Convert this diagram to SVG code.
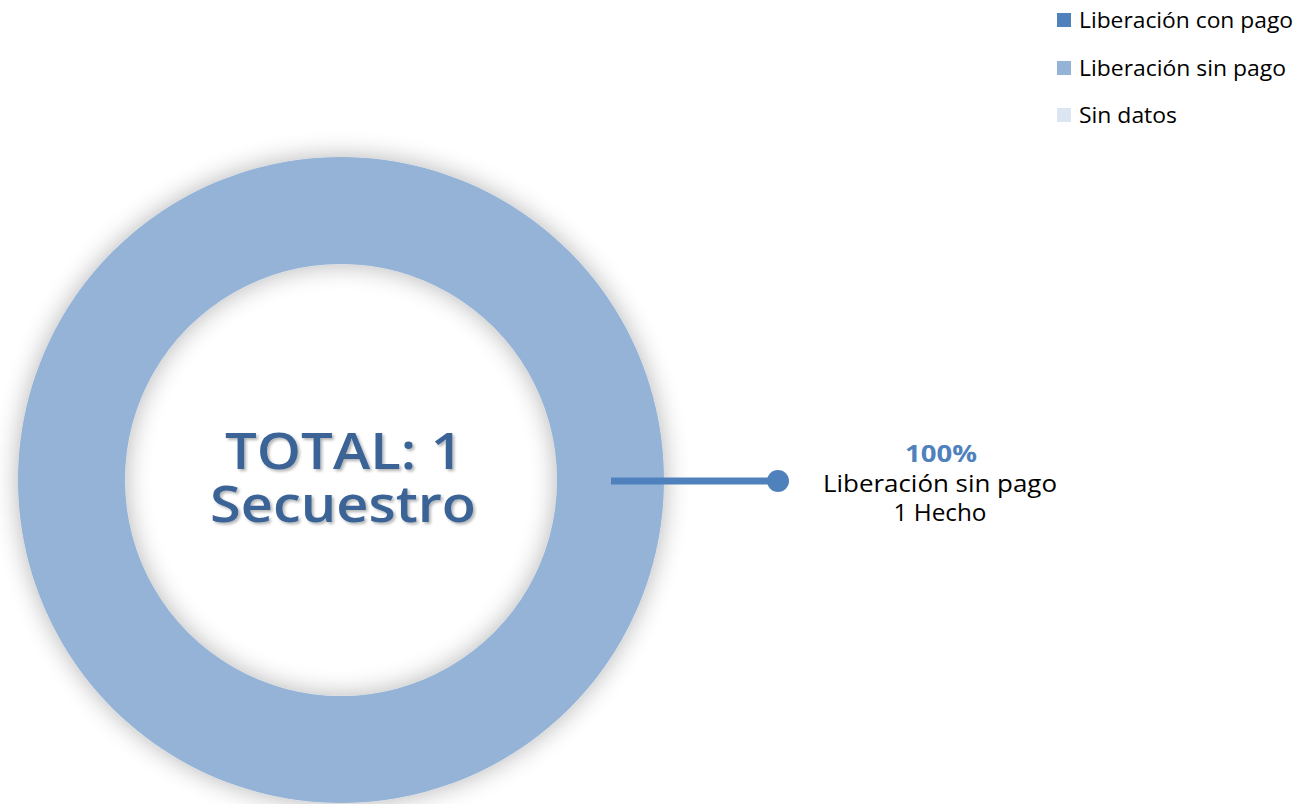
<svg xmlns="http://www.w3.org/2000/svg" width="1315" height="804" viewBox="0 0 1315 804">
  <defs>
    <filter id="glow" x="-20%" y="-20%" width="140%" height="140%">
      <feGaussianBlur in="SourceAlpha" stdDeviation="13"/>
      <feComponentTransfer><feFuncA type="linear" slope="0.3"/></feComponentTransfer>
      <feMerge><feMergeNode/><feMergeNode in="SourceGraphic"/></feMerge>
    </filter>
    <filter id="tshadow" x="-10%" y="-20%" width="120%" height="140%">
      <feGaussianBlur in="SourceAlpha" stdDeviation="1.5"/>
      <feOffset dx="2" dy="2"/>
      <feComponentTransfer><feFuncA type="linear" slope="0.3"/></feComponentTransfer>
      <feMerge><feMergeNode/><feMergeNode in="SourceGraphic"/></feMerge>
    </filter>
  </defs>
  <style>
    .legend { font-family: "Open Sans", "Liberation Sans", sans-serif; font-size: 21px; fill: #000; }
    .center { font-family: "Open Sans", "DejaVu Sans", sans-serif; font-weight: 600; font-size: 50px; fill: #3a6496; text-anchor: middle; }
    .lbl { font-family: "Open Sans", "Liberation Sans", sans-serif; font-size: 23px; fill: #000; text-anchor: middle; }
    .pct { font-family: "Open Sans", "Liberation Sans", sans-serif; font-weight: 700; font-size: 23px; fill: #4f81bd; text-anchor: middle; }
  </style>
  <rect width="1315" height="804" fill="#ffffff"/>

  <g id="donut">
    <path d="M341,157 A323,323 0 1,1 340.99,157 Z M341,264 A216,216 0 1,0 341.01,264 Z" fill="#95b3d7" fill-rule="evenodd" filter="url(#glow)"/>
  </g>

  <g id="center-label" filter="url(#tshadow)">
    <text class="center" x="344" y="469" textLength="238" lengthAdjust="spacingAndGlyphs">TOTAL: 1</text>
    <text class="center" x="343" y="522" textLength="266" lengthAdjust="spacingAndGlyphs">Secuestro</text>
  </g>

  <g id="connectors">
    <line x1="611" y1="481" x2="778" y2="481" stroke="#4f81bd" stroke-width="7"/>
    <circle cx="778" cy="481" r="11" fill="#4f81bd"/>
  </g>

  <g id="data-label">
    <text class="pct" x="941" y="462" textLength="72" lengthAdjust="spacingAndGlyphs">100%</text>
    <text class="lbl" x="940" y="492" textLength="234" lengthAdjust="spacingAndGlyphs">Liberación sin pago</text>
    <text class="lbl" x="940" y="521" textLength="93" lengthAdjust="spacingAndGlyphs">1 Hecho</text>
  </g>

  <g id="legend">
    <g id="legend-con-pago">
      <rect x="1057" y="13" width="14" height="14" fill="#4f81bd"/>
      <text class="legend" x="1079" y="28" textLength="214" lengthAdjust="spacingAndGlyphs">Liberación con pago</text>
    </g>
    <g id="legend-sin-pago">
      <rect x="1057" y="61" width="14" height="14" fill="#95b3d7"/>
      <text class="legend" x="1079" y="76" textLength="207" lengthAdjust="spacingAndGlyphs">Liberación sin pago</text>
    </g>
    <g id="legend-sin-datos">
      <rect x="1057" y="108" width="14" height="14" fill="#dce6f2"/>
      <text class="legend" x="1079" y="123" textLength="98" lengthAdjust="spacingAndGlyphs">Sin datos</text>
    </g>
  </g>
</svg>
